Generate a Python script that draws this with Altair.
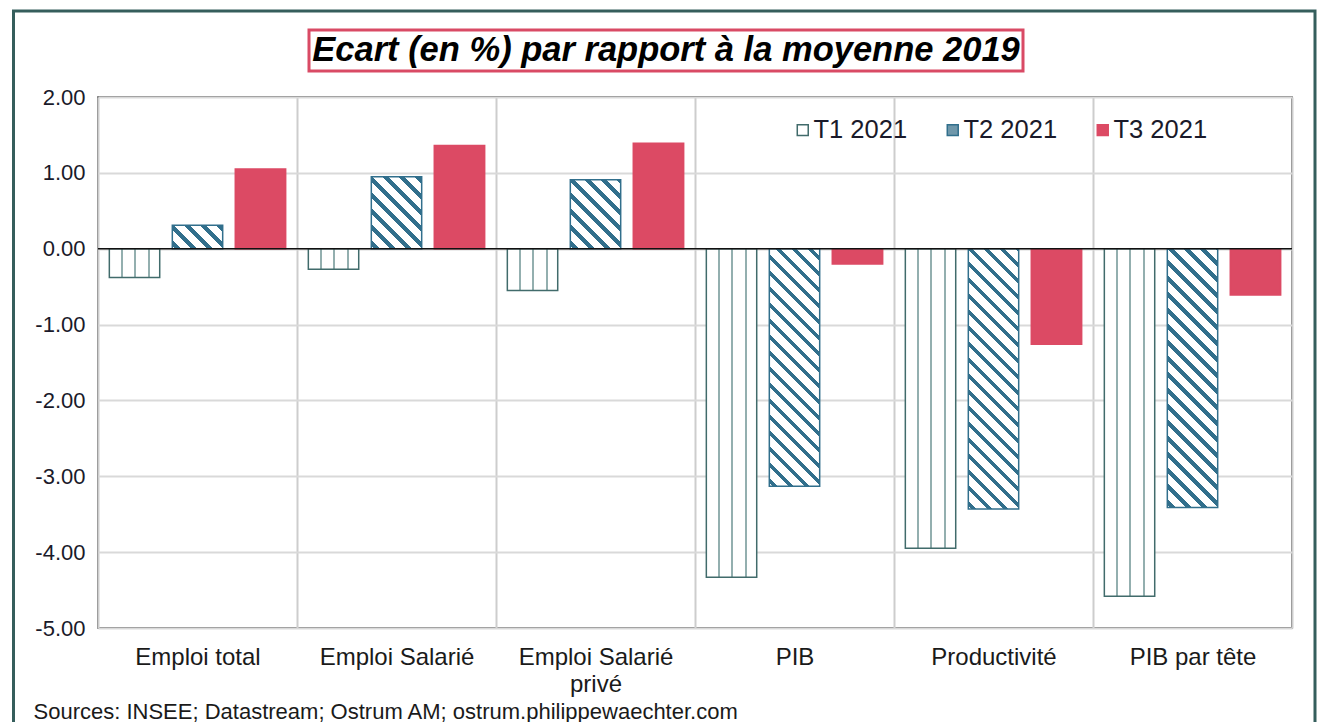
import altair as alt
import pandas as pd

# ---------------- data ----------------
categories = ["Emploi total", "Emploi Salarié", "Emploi Salarié\nprivé",
              "PIB", "Productivité", "PIB par tête"]
series_names = ["T1 2021", "T2 2021", "T3 2021"]
t1_2021 = [-0.38, -0.27, -0.55, -4.33, -3.95, -4.58]
t2_2021 = [0.31, 0.95, 0.91, -3.13, -3.43, -3.41]
t3_2021 = [1.05, 1.36, 1.39, -0.20, -1.26, -0.61]
y_ticks = [2, 1, 0, -1, -2, -3, -4, -5]

title_text = "Ecart (en %) par rapport à la moyenne 2019"
source_text = "Sources: INSEE; Datastream; Ostrum AM;  ostrum.philippewaechter.com"

# ---------------- layout / style ----------------
FONT = "Liberation Sans"
W, H = 1194, 531
Y_MIN, Y_MAX = -5, 2
PAD_IN, PAD_OUT = 0.2, 0.18
C_T1 = "#416B6B"
C_T1_LINE = "#93AFAF"
C_T2 = "#316F8C"
C_T3 = "#DC4A64"
C_FRAME = "#355E5C"
C_TITLEBOX = "#D94A65"

rows = []
for i, cat in enumerate(categories):
    for s, vals in zip(series_names, (t1_2021, t2_2021, t3_2021)):
        rows.append({"idx": i, "cat": cat, "series": s, "value": vals[i]})
df = pd.DataFrame(rows)

px_per_unit = H / (Y_MAX - Y_MIN)
band = W / len(categories)
step = band / (len(series_names) - PAD_IN + 2 * PAD_OUT)
bar_w = step * (1 - PAD_IN)


def make_stops(segments, light, dark):
    stops = [{"offset": 0, "color": light}]
    for a, b in segments:
        a = max(0.0, min(1.0, a))
        b = max(0.0, min(1.0, b))
        if b <= a:
            continue
        a, b = round(a, 5), round(b, 5)
        stops += [{"offset": a, "color": light}, {"offset": a, "color": dark},
                  {"offset": b, "color": dark}, {"offset": b, "color": light}]
    stops.append({"offset": 1, "color": light})
    return stops


# T1: white with thin vertical lines (approximation of the dashed pattern)
line_pos = [12.5, 26.0, 39.5]
line_w = 1.7
t1_grad = {
    "gradient": "linear", "x1": 0, "y1": 0, "x2": 1, "y2": 0,
    "stops": make_stops([((p - line_w / 2) / bar_w, (p + line_w / 2) / bar_w) for p in line_pos],
                        "#ffffff", C_T1_LINE),
}


# T2: diagonal "\" stripes, computed for each bar's own size
def diag_grad(value, period=16.0, dark=5.5, phase=3.0):
    w = bar_w
    h = max(abs(value) * px_per_unit, 1.0)
    L = w + h
    s = L / (w * w + h * h)
    segs = []
    d = phase
    while d < L:
        segs.append((d / L, (d + dark) / L))
        d += period
    return {"gradient": "linear", "x1": 0, "y1": 1, "x2": round(w * s, 6), "y2": round(1 - h * s, 6),
            "stops": make_stops(segs, "#ffffff", C_T2)}


conditions = [{"test": "datum.series === 'T1 2021'", "value": t1_grad}]
for i, v in enumerate(t2_2021):
    conditions.append({"test": f"datum.series === 'T2 2021' && datum.idx === {i}",
                       "value": diag_grad(v)})

legend = alt.Legend(
    title=None, orient="none", legendX=692, legendY=20, direction="horizontal",
    symbolType="square", symbolSize=120, symbolStrokeWidth=1.5,
    labelFont=FONT, labelFontSize=25.5, labelColor="#1a1a2a", labelOffset={"expr": "-2"},
    columnPadding=32, padding=0,
)

bars = alt.Chart(df).mark_bar(strokeWidth=1.5).encode(
    x=alt.X("cat:N", sort=categories,
            scale=alt.Scale(paddingInner=0, paddingOuter=0),
            axis=alt.Axis(
                title=source_text, titleFont=FONT, titleFontSize=22, titleFontWeight="normal",
                titleColor="#1a1a1a", titleX=-65, titleY=83, titleAlign="left",
                titleAnchor="start", titleBaseline="middle",
                labelExpr="split(datum.label, '\\n')", labelAngle=0, labelOverlap=False,
                labelFont=FONT, labelFontSize=24, labelColor="#1a1a1a", labelPadding=17,
                labelLineHeight=27, labelLimit=300,
                ticks=False, domain=False, grid=True, tickBand="extent",
                gridColor="#CDCDCD", gridWidth=2)),
    xOffset=alt.XOffset("series:N", sort=series_names,
                        scale=alt.Scale(paddingInner=PAD_IN, paddingOuter=PAD_OUT)),
    y=alt.Y("value:Q", scale=alt.Scale(domain=[Y_MIN, Y_MAX], nice=False, zero=False),
            axis=alt.Axis(values=y_ticks, title=None,
                          labelExpr="(datum.value < 0 ? '-' : '') + format(abs(datum.value), '.2f')",
                          labelFont=FONT, labelFontSize=22, labelColor="#1a1a2a",
                          labelPadding=13, ticks=False, domain=False,
                          grid=True, gridColor="#D9D9D9", gridWidth=2)),
    fill=alt.Fill("series:N", sort=series_names,
                  scale=alt.Scale(domain=series_names, range=["#ffffff", "#6F97AA", C_T3]),
                  legend=legend, condition=conditions),
    stroke=alt.Stroke("series:N", sort=series_names,
                      scale=alt.Scale(domain=series_names, range=[C_T1, C_T2, C_T3]),
                      legend=legend),
)

zero_line = alt.Chart(pd.DataFrame({"z": [0]})).mark_rule(color="#111111", strokeWidth=1.5).encode(
    y=alt.datum(0)
)

deco = pd.DataFrame({"k": [0]})
frame = alt.Chart(deco).mark_rect(fillOpacity=0, stroke=C_FRAME, strokeWidth=3).encode(
    x=alt.value(-84.5), x2=alt.value(1217), y=alt.value(-86), y2=alt.value(720)
)
title_box = alt.Chart(deco).mark_rect(fillOpacity=0, stroke=C_TITLEBOX, strokeWidth=3).encode(
    x=alt.value(211), x2=alt.value(925), y=alt.value(-67), y2=alt.value(-26)
)
title_mark = alt.Chart(deco).mark_text(
    font=FONT, fontSize=34.5, fontStyle="italic", fontWeight="bold", color="#000000",
    align="center", baseline="middle"
).encode(x=alt.value(568), y=alt.value(-46), text=alt.value(title_text))

chart = alt.layer(bars, zero_line, frame, title_box, title_mark).properties(
    width=W, height=H,
    autosize=alt.AutoSizeParams(type="none"),
    padding={"left": 90, "top": 89, "right": 25, "bottom": 94},
).configure_view(stroke="#3C3C3C", strokeWidth=1.5)

chart.save("out.html", embed_options={"renderer": "svg", "actions": False})
